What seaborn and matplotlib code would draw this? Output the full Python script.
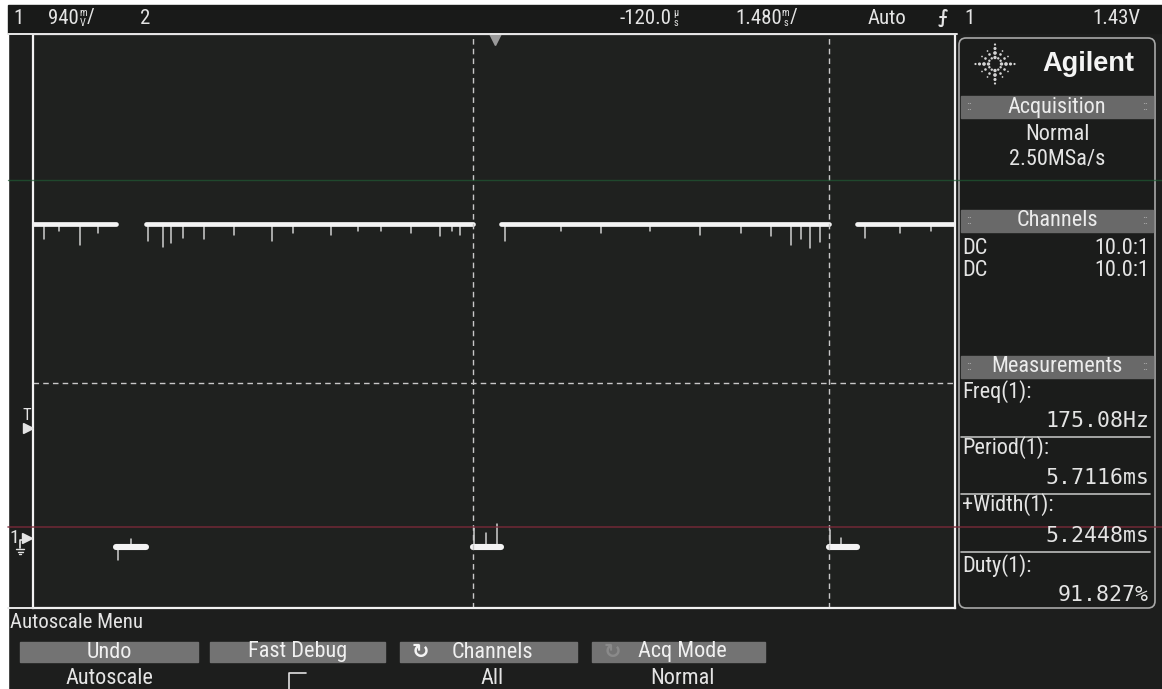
import numpy as np
import pandas as pd
import matplotlib
matplotlib.use("Agg")
import matplotlib.pyplot as plt
from matplotlib import font_manager
from matplotlib.patches import Rectangle, FancyBboxPatch
import seaborn as sns

W, H = 1162, 689

# ---- scope settings -------------------------------------------------------
volts_per_div = 0.94          # V / div
time_per_div = 1.48           # ms / div
screen_center_ms = -0.12      # horizontal delay
h_divs, v_divs = 10, 8
ground_div_from_bottom = 0.95
cursor_level_v = 2.06

# ---- channel 1 trace (ms, V) ---------------------------------------------
high_level = 4.14
low_level = -0.09
fall_ms = [-6.18, -0.46, 5.25]
rise_ms = [-5.71, 0.00, 5.71]

# short downward glitches riding on the high level
glitch_ms = [-7.35, -7.10, -6.76, -6.48,
             -5.68, -5.44, -5.31, -5.12, -4.78, -4.30, -3.68, -3.35, -2.74,
             -2.30, -1.94, -1.46, -0.98, -0.79, -0.66,
             0.06, 0.95, 1.59, 2.39, 3.19, 3.84, 4.32, 4.64, 4.80, 4.96, 5.12,
             5.84, 6.40, 6.89]
glitch_depth = [0.20, 0.10, 0.28, 0.12,
                0.22, 0.30, 0.25, 0.18, 0.20, 0.15, 0.22, 0.12, 0.14,
                0.10, 0.10, 0.12, 0.16, 0.10, 0.14,
                0.22, 0.10, 0.12, 0.10, 0.14, 0.12, 0.16, 0.28, 0.20, 0.32, 0.24,
                0.18, 0.12, 0.10]

# small overshoots on the low level
low_glitch_ms = [-6.15, -5.95, -0.44, -0.25, -0.07, 5.27, 5.45]
low_glitch_size = [-0.18, 0.10, 0.25, 0.18, 0.30, 0.22, 0.12]

# ---- readouts ---------------------------------------------------------------
measure_labels = ["Freq(1):", "Period(1):", "+Width(1):", "Duty(1):"]
measure_values = ["175.08Hz", "5.7116ms", "5.2448ms", "91.827%"]
button_titles = ["Undo", "Fast Debug", "Channels", "Acq Mode"]
button_values = ["Autoscale", "", "All", "Normal"]


# ---- fonts ----------------------------------------------------------------
def pick_narrow():
    ttf = font_manager.fontManager.ttflist
    names = {f.name for f in ttf}
    for n in ("Liberation Sans Narrow", "Roboto Condensed", "Open Sans Condensed",
              "Noto Sans Condensed", "DejaVu Sans Condensed"):
        if n in names:
            return n, "normal"
    for f in ttf:
        if f.name in ("DejaVu Sans", "Roboto", "Noto Sans", "Open Sans") and \
                str(f.stretch) in ("condensed", "semi-condensed", "extra-condensed"):
            return f.name, str(f.stretch)
    return "Roboto", "normal"


narrow, stretch = pick_narrow()
FAM = [narrow, "DejaVu Sans"]
MONO = ["DejaVu Sans Mono"]
TXT = "#e4e4e4"

sns.set_theme(style="dark")
plt.rcParams["font.family"] = FAM
plt.rcParams["font.stretch"] = stretch

fig = plt.figure(figsize=(W / 100, H / 100), dpi=100)
fig.patch.set_facecolor("#1d1e1d")

# ---- main graticule axes ----------------------------------------------------
x0, x1, y0, y1 = 33, 955, 34, 608
ax = fig.add_axes([x0 / W, 1 - y1 / H, (x1 - x0) / W, (y1 - y0) / H])
ax.set_facecolor("#1f211f")
half = h_divs * time_per_div / 2
ax.set_xlim(screen_center_ms - half, screen_center_ms + half)
ybot = -ground_div_from_bottom * volts_per_div
ytop = ybot + v_divs * volts_per_div
ax.set_ylim(ybot, ytop)
for s in ax.spines.values():
    s.set_color("#f2f2f2")
    s.set_linewidth(1.6)

# segments of the trace between edges
t_lo, t_hi = ax.get_xlim()
events = sorted([(t, "fall") for t in fall_ms] + [(t, "rise") for t in rise_ms])
segs = []
t_prev, lvl = t_lo, high_level
for t, kind in events:
    segs.append((t_prev, t, lvl))
    t_prev = t
    lvl = low_level if kind == "fall" else high_level
segs.append((t_prev, t_hi, lvl))

high_rows, low_rows = [], []
for i, (a, b, lv) in enumerate(segs):
    rows = high_rows if lv == high_level else low_rows
    rows += [{"t": a, "v": lv, "seg": i}, {"t": b, "v": lv, "seg": i}]
high_df = pd.DataFrame(high_rows)
low_df = pd.DataFrame(low_rows)

g_rows = []
for i, (t, d) in enumerate(zip(glitch_ms, glitch_depth)):
    g_rows += [{"t": t, "v": high_level, "g": i}, {"t": t, "v": high_level - d, "g": i}]
for j, (t, d) in enumerate(zip(low_glitch_ms, low_glitch_size)):
    k = len(glitch_ms) + j
    g_rows += [{"t": t, "v": low_level, "g": k}, {"t": t, "v": low_level + d, "g": k}]
g_df = pd.DataFrame(g_rows)

sns.lineplot(data=g_df, x="t", y="v", units="g", estimator=None, sort=False,
             color="#cfcfcf", linewidth=1.1, ax=ax, legend=False)
sns.lineplot(data=high_df, x="t", y="v", units="seg", estimator=None,
             color="#f4f4f4", linewidth=3.4, ax=ax, legend=False)
sns.lineplot(data=low_df, x="t", y="v", units="seg", estimator=None,
             color="#f4f4f4", linewidth=4.4, ax=ax, legend=False)

# cursors
dash = dict(color="#c8c8c8", linewidth=1.0, linestyle=(0, (4, 3)))
for t in fall_ms[1:]:
    ax.axvline(t, **dash)
ax.axhline(cursor_level_v, **dash)

# trigger position marker
ax.plot([-0.10], [ytop - 0.07], marker="v", ms=9, color="#9a9a9a", clip_on=False, zorder=5)

ax.set_xticks([])
ax.set_yticks([])
ax.set_xlabel("")
ax.set_ylabel("")
ax.grid(False)

# ---- overlay in pixel coordinates ------------------------------------------
ov = fig.add_axes([0, 0, 1, 1], zorder=10)
ov.set_xlim(0, W)
ov.set_ylim(H, 0)
ov.axis("off")
ov.patch.set_alpha(0)
renderer = fig.canvas.get_renderer()

# paper margins
ov.add_patch(Rectangle((0, 0), W, 5, color="white", zorder=0))
ov.add_patch(Rectangle((0, 0), 8, H, color="white", zorder=0))
# top status bar
ov.add_patch(Rectangle((8, 5), W - 8, 28, color="#191a19", zorder=0))
ov.plot([8, 957], [34, 34], color="#e8e8e8", lw=1.4)
ov.plot([8, 33], [608, 608], color="#e8e8e8", lw=1.4)

# faint reflection lines across the screen
ov.plot([8, W], [180, 180], color="#1f5a33", lw=1.0, alpha=0.7)
ov.plot([8, W], [527, 527], color="#7d2a3a", lw=1.2, alpha=0.8)

# status bar text
ts = dict(color=TXT, fontsize=15, va="center")


def stacked_readout(x, y, number, upper, lower, tail=""):
    t = ov.text(x, y, number, ha="left", **ts)
    bb = t.get_window_extent(renderer)
    xs = bb.x1 + 4
    ov.text(xs, y - 5, upper, color=TXT, fontsize=7.5, va="center", ha="center")
    ov.text(xs, y + 5, lower, color=TXT, fontsize=7.5, va="center", ha="center")
    if tail:
        ov.text(xs + 4, y, tail, ha="left", **ts)


ov.text(13, 18, "1", ha="left", **ts)
stacked_readout(48, 18, "940", "m", "V", "/")
ov.text(140, 18, "2", ha="left", **ts)
stacked_readout(620, 18, "-120.0", "µ", "s")
stacked_readout(735, 18, "1.480", "m", "s", "/")
ov.text(887, 18, "Auto", ha="center", **ts)
ov.text(943, 18, "\u2A0D", ha="center", color=TXT, fontsize=13, va="center",
        family=["DejaVu Sans"], fontweight="bold")
ov.text(970, 18, "1", ha="center", **ts)
ov.text(1140, 18, "1.43V", ha="right", **ts)

# left margin markers
ov.text(27, 415, "T", ha="center", va="center", color=TXT, fontsize=12)
ov.plot([28], [428], marker=">", ms=7, color=TXT)
ov.text(14, 538, "1", ha="center", va="center", color=TXT, fontsize=14)
ov.plot([27], [538], marker=">", ms=7, color=TXT)
ov.plot([20, 20, 27], [548, 540, 540], color=TXT, lw=1.2)
ov.plot([16, 24], [549, 549], color=TXT, lw=1.0)
ov.plot([17.5, 22.5], [551.5, 551.5], color=TXT, lw=1.0)
ov.plot([19, 21], [554, 554], color=TXT, lw=1.0)

# ---- right side panel ---------------------------------------------------------
px0, px1, py0, py1 = 959, 1155, 38, 608
ov.add_patch(FancyBboxPatch((px0, py0), px1 - px0, py1 - py0,
                            boxstyle="round,pad=0,rounding_size=7",
                            facecolor="#1b1c1b", edgecolor="#a8a8a8", lw=1.2, zorder=1))

# logo burst: dotted rays fading outwards
cx, cy = 995, 64
for k in range(12):
    ang = 2 * np.pi * k / 12
    major = k % 3 == 0
    r = np.array([6.5, 11.0, 15.5, 19.5]) if major else np.array([6.5, 11.0, 15.0])
    sz = np.array([6, 7, 5, 2.5]) if major else np.array([3, 3.5, 1.5])
    ov.scatter(cx + r * np.cos(ang), cy + r * np.sin(ang), s=sz, color="#d4d4d4",
               linewidths=0, zorder=3)
ov.text(1088, 64, "Agilent", ha="center", va="center", color="#f4f4f4",
        fontsize=19.5, fontweight="bold", family=["Liberation Sans", "DejaVu Sans"],
        fontstretch="normal", zorder=3)

PS = 16


def header(yc, label):
    ov.add_patch(Rectangle((px0 + 2, yc - 11), px1 - px0 - 4, 22, color="#696969", zorder=2))
    ov.text((px0 + px1) / 2, yc, label, ha="center", va="center", color="#ececec",
            fontsize=PS, zorder=3)
    for gx in (px0 + 10, px1 - 10):
        ov.text(gx, yc, "::", ha="center", va="center", color="#b0b0b0", fontsize=9, zorder=3)


header(107, "Acquisition")
ov.text(1057, 135, "Normal", ha="center", va="center", color=TXT, fontsize=PS, zorder=3)
ov.text(1057, 159, "2.50MSa/s", ha="center", va="center", color=TXT, fontsize=PS, zorder=3)

header(221, "Channels")
for yy in (248, 271):
    ov.text(962, yy, "DC", ha="left", va="center", color=TXT, fontsize=PS, zorder=3)
    ov.text(1149, yy, "10.0:1", ha="right", va="center", color=TXT, fontsize=PS, zorder=3)

header(367, "Measurements")
lab_y = [392, 448, 505, 566]
val_y = [421, 478, 536, 595]
for i, (lab, val) in enumerate(zip(measure_labels, measure_values)):
    ov.text(962, lab_y[i], lab, ha="left", va="center", color=TXT, fontsize=PS, zorder=3)
    ov.text(1149, val_y[i], val, ha="right", va="center", color=TXT, fontsize=15.5,
            family=MONO, fontstretch="normal", zorder=3)
    if i < 3:
        ov.plot([961, 1150], [val_y[i] + 16, val_y[i] + 16], color="#bdbdbd", lw=1.2, zorder=3)

# ---- softkey menu -------------------------------------------------------------
ov.text(10, 622, "Autoscale Menu", ha="left", va="center", color=TXT, fontsize=15)
bx = [(20, 198), (210, 385), (400, 577), (592, 765)]
for (a, b), title, val in zip(bx, button_titles, button_values):
    ov.add_patch(Rectangle((a, 642), b - a, 20, color="#737373", zorder=1))
    cxb = (a + b) / 2
    if title in ("Channels", "Acq Mode"):
        ov.text(a + 20, 652, "\u21BB", ha="center", va="center", fontsize=15,
                color="#f4f4f4" if title == "Channels" else "#8a8a8a",
                family=["DejaVu Sans"], fontweight="bold", zorder=3)
        cxb += 4
    ov.text(cxb, 652, title, ha="center", va="center", color="#f0f0f0", fontsize=PS, zorder=3)
    if val:
        ov.text(cxb, 678, val, ha="center", va="center", color=TXT, fontsize=PS, zorder=3)
# checkbox under Fast Debug
ov.plot([289, 289, 306], [689, 673, 673], color="#e0e0e0", lw=1.2)

fig.savefig("out.png", dpi=100, facecolor=fig.get_facecolor())
